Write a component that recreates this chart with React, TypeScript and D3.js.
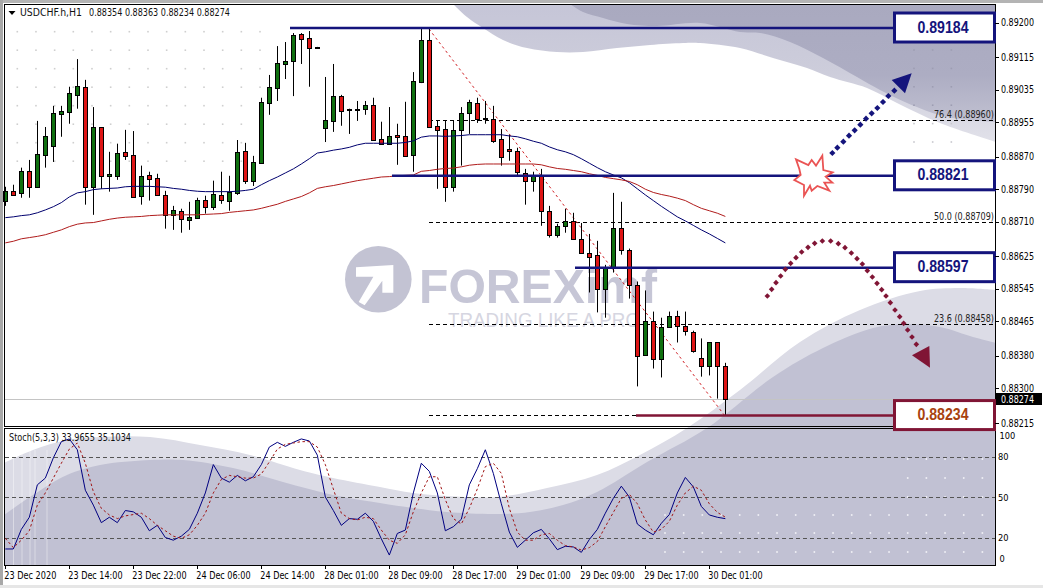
import React from "react";
import * as d3 from "d3";

// Prices are in points (price x 100000)
const highs = [88796,88801,88843,88862,88958,88943,88995,88995,89042,89110,89059,88992,88943,88882,88902,88936,88933,88848,88833,88828,88786,88749,88742,88759,88769,88774,88811,88833,88823,88911,88904,88872,89015,89071,89142,89152,89174,89174,89179,89140,89066,89098,89022,88988,89007,89007,89015,88956,88992,88951,89005,89078,89184,89184,88958,88958,88958,88992,89010,89015,89007,88995,88938,88924,88892,88840,88833,88840,88749,88705,88742,88732,88707,88680,88663,88604,88781,88759,88644,88563,88541,88489,88474,88489,88491,88489,88442,88423,88413,88413,88363];
const lows = [88749,88774,88769,88769,88793,88843,88857,88919,88951,88988,88752,88727,88791,88784,88813,88862,88769,88752,88762,88774,88693,88690,88683,88690,88717,88730,88739,88754,88737,88776,88803,88798,88855,88973,89007,89061,89019,89098,89042,89137,88906,88931,88946,88926,88958,88973,88909,88899,88899,88850,88870,88833,89051,88943,88791,88759,88784,88848,88926,88953,88951,88904,88848,88860,88825,88752,88784,88700,88671,88671,88683,88668,88634,88536,88487,88474,88585,88629,88521,88305,88383,88349,88327,88450,88413,88430,88388,88329,88332,88275,88234];
const opens = [88762,88786,88781,88835,88796,88875,88897,88975,88980,89022,89042,88796,88943,88823,88823,88882,88875,88774,88825,88818,88776,88727,88737,88715,88720,88764,88747,88776,88762,88781,88884,88811,88855,89002,89039,89098,89105,89172,89162,89140,88941,88958,89019,88988,88988,88988,88997,88914,88902,88924,88921,88875,89054,89157,88946,88938,88796,88936,88978,89002,88965,88963,88914,88889,88884,88830,88811,88825,88737,88678,88700,88712,88668,88634,88629,88545,88595,88695,88641,88555,88383,88467,88373,88450,88477,88454,88440,88376,88356,88413,88354];
const closes = [88786,88776,88835,88796,88877,88921,88978,88983,89027,89044,88796,88943,88823,88828,88879,88872,88771,88823,88816,88776,88727,88739,88717,88722,88764,88747,88779,88764,88784,88882,88811,88857,89005,89042,89101,89105,89169,89160,89137,89137,88961,89019,88983,88985,88985,88997,88911,88902,88921,88919,88872,89056,89157,88943,88936,88796,88936,88978,89005,88963,88963,88909,88870,88884,88833,88811,88825,88737,88678,88700,88712,88668,88634,88624,88545,88595,88695,88641,88555,88381,88467,88373,88450,88477,88454,88442,88393,88356,88413,88354,88274];
const maFast = [88720,88722,88725,88727,88732,88739,88747,88757,88771,88781,88784,88789,88791,88792,88793,88796,88797,88797,88797,88796,88795,88792,88790,88787,88785,88784,88784,88784,88784,88785,88787,88790,88801,88811,88820,88830,88840,88852,88865,88879,88882,88886,88889,88893,88899,88903,88903,88903,88903,88903,88905,88909,88918,88921,88921,88920,88921,88922,88924,88924,88924,88924,88924,88921,88919,88914,88908,88903,88894,88887,88882,88875,88865,88854,88843,88833,88825,88818,88806,88791,88776,88762,88748,88735,88722,88712,88701,88690,88680,88669,88658];
const maSlow = [88658,88662,88668,88671,88674,88678,88684,88690,88698,88704,88707,88708,88712,88716,88719,88721,88722,88723,88725,88726,88727,88727,88727,88727,88727,88728,88729,88730,88733,88735,88737,88739,88743,88748,88753,88760,88766,88772,88781,88792,88796,88799,88803,88807,88811,88814,88817,88820,88821,88823,88824,88825,88834,88836,88839,88841,88842,88845,88849,88851,88852,88852,88852,88852,88852,88852,88852,88850,88845,88841,88839,88836,88833,88828,88824,88819,88816,88813,88809,88801,88790,88782,88777,88773,88768,88762,88752,88743,88737,88731,88723];
const stochK = [11.5,11.5,26,35,59,64,79,91,93,85,55,44,31,35,31,40,39,35,25,29,20,18,21,26,38,53,74,64,61,66,62,65,74,87,90.5,87.5,90.5,93,91.5,81,50,40,29,34,33.5,38,32,19,7,23,25.5,53,75,69,53,25,28,33.5,59,71,85,67.5,45,24,12.7,18,23.5,26,19,11,13.5,13,9,18.5,26,38,49,58,50,30,25.5,22,30.5,37,53,64.5,57.5,43,36.7,35,33.97];
const stochD = [19.4,12.5,18,25,44,53,64,75,85.5,90,75,54,41.6,36.7,34,36,37,38,34,29,25,21,19.4,22,29,38,53,63,66,65,64,64,67,76,85.5,89,90,91,91,87,74,56,38,34,33,35,34,25.5,18,15.7,22,39,53,65,65,48,34,30,41.6,56,72.5,75,67.5,41.6,24,18,18,22,23,18,14,13,10.7,12.5,17,28,38.6,49,52,45,33,24,26,32,44,53,58,55,45,38.6,35.1];

const priceTicks = [89200,89115,89035,88955,88870,88790,88710,88625,88545,88465,88380,88300,88215];
const stochTicks = [100,80,50,20,0];
const stochLevels = [80,50,20];
const timeTicks = [
  [0,"23 Dec 2020"],[8,"23 Dec 14:00"],[16,"23 Dec 22:00"],[24,"24 Dec 06:00"],[32,"24 Dec 14:00"],[40,"28 Dec 01:00"],
  [48,"28 Dec 09:00"],[56,"28 Dec 17:00"],[64,"29 Dec 01:00"],[72,"29 Dec 09:00"],[80,"29 Dec 17:00"],[88,"30 Dec 01:00"],
] as [number,string][];
const fibLevels = [[88960,"76.4 (0.88960)"],[88709,"50.0 (0.88709)"],[88458,"23.6 (0.88458)"],[88234,""]] as [number,string][];
const callouts = [
  {level:89184,label:"0.89184",from:290,color:"#14147c",text:"#14147c",dy:-1},
  {level:88821,label:"0.88821",from:392,color:"#14147c",text:"#14147c",dy:-0.8},
  {level:88597,label:"0.88597",from:575,color:"#14147c",text:"#14147c",dy:0},
  {level:88234,label:"0.88234",from:636,color:"#801535",text:"#a8420f",dy:0.3},
];

// decorative background curves [x,y]
const topLight = [[453,4],[467,17],[483,28],[503,40],[527,48],[557,52],[583,52],[617,48],[650,45],[683,43],[700,43],[740,48],[773,58],[807,68],[830,77],[867,88],[897,103],[940,123],[996,142]];
const topDark = [[570,4],[583,12],[603,18],[627,24],[657,26],[700,23],[740,32],[760,33],[790,42],[823,58],[857,77],[880,90],[907,103],[947,117],[996,122]];
const botLight = [[4,463],[33,450],[67,440],[100,437],[150,437],[200,445],[250,455],[300,470],[333,478],[380,487],[413,493],[447,496],[497,497],[547,488],[597,475],[640,455],[687,428],[740,390],[800,342],[860,310],[920,291],[960,288],[996,290]];
const botDark = [[4,515],[33,495],[67,475],[100,465],[150,460],[183,460],[233,468],[283,482],[333,495],[380,503],[413,508],[447,512],[497,514],[530,512],[563,505],[597,492],[647,462],[707,428],[773,377],[823,348],[873,328],[907,324],[940,327],[973,337],[996,343]];
const stripes = [13.5,22,30,35,47];

const blueDots = [[277,459],[292,443],[310,425],[327,407],[344,391],[361,374],[378,356],[395,340],[412,324],[429,306],[445,288],[463,272]];
const blueHead = [[515,220],[455,240],[495,280]];
const redDots = [[82,228],[95,208],[108,188],[122,168],[136,148],[152,130],[168,113],[185,96],[204,82],[224,70],[247,63],[272,63],[295,71],[315,83],[334,99],[351,116],[367,132],[382,152],[397,171],[411,190],[425,209],[438,228],[451,248],[465,270],[479,290],[491,310],[503,330],[516,351],[529,373]];
const redHead = [[568,378],[516,406],[570,443]];
const burst = [[168,478],[205,495],[215,480],[228,497],[247,467],[250,510],[278,517],[257,530],[277,548],[253,548],[268,572],[232,558],[215,572],[210,557],[192,587],[192,555],[163,540],[182,525],[178,507]];
const logoArrow = [[48,82],[160,75],[160,158],[127,158],[127,122],[74,196],[56,186],[100,110],[48,110]];

const FONT = "'DejaVu Sans Condensed','DejaVu Sans',sans-serif";
const x = d3.scaleLinear().domain([0, 90]).range([5.33, 725.33]);
const y = d3.scaleLinear().domain([88215, 89200]).range([423, 22.5]);
const yS = d3.scaleLinear().domain([0, 100]).range([564.5, 429.5]);
const cx = (i: number) => Math.floor(x(i)) + 0.5;

const smooth = d3.line<number[]>().x(d => d[0]).y(d => d[1]).curve(d3.curveCatmullRom);
const area = (pts: number[][], closeTo: number[][]) => {
  const p = smooth(pts) as string;
  return p + closeTo.map(c => `L${c[0]},${c[1]}`).join("") + "Z";
};
const z4 = (p: number[]) => [740 + p[0] / 3, p[1] / 3];
const z5 = (p: number[]) => [740 + p[0] / 3, 220 + p[1] / 3];
const poly = (pts: number[][]) => pts.map(p => p.join(",")).join(" ");

function Candles() {
  return (
    <g>
      {opens.map((o, i) => {
        const c = closes[i];
        const up = c > o;
        const top = Math.round(y(Math.max(o, c))) + 0.5;
        const bot = Math.round(y(Math.min(o, c))) + 0.5;
        return (
          <g key={i}>
            <line x1={cx(i)} x2={cx(i)} y1={y(highs[i])} y2={y(lows[i])} stroke="#000" strokeWidth={1} />
            <rect x={cx(i) - 2} y={top} width={4} height={Math.max(bot - top, 0.5)}
              fill={up ? "#0f700f" : "#de1515"} stroke="#000" strokeWidth={1} />
          </g>
        );
      })}
    </g>
  );
}

export default function App() {
  const fast = d3.line<number>().x((_, i) => x(i)).y(d => y(d));
  const st = d3.line<number>().x((_, i) => x(i)).y(d => yS(d));
  const dotsGrid: number[][] = [];
  for (let k = 0; k < 14; k++) for (let j = 0; j < 8; j++) dotsGrid.push([17.3 + 18.67 * k, 31.7 + 18.5 * j]);
  const dotsGrid2: number[][] = [];
  for (let k = 0; k < 3; k++) for (let j = 0; j < 6; j++) dotsGrid2.push([914 + 18.67 * k, 50 + 18.4 * j]);
  const dotsGrid3: number[][] = [];
  for (let k = 0; k < 18; k++) for (const r of [515, 533, 552]) dotsGrid3.push([665 + 18.67 * k, r]);
  for (let k = 13; k < 18; k++) for (const r of [459, 478, 497]) dotsGrid3.push([665 + 18.67 * k, r]);
  const lastY = y(closes[closes.length - 1]);

  return (
    <svg width={1043} height={588} style={{ position: "absolute", left: 0, top: 0, background: "#fff" }} fontFamily={FONT}>
      <defs>
        <linearGradient id="tl" gradientUnits="userSpaceOnUse" x1="0" y1="0" x2="0" y2="145">
          <stop offset="0" stopColor="#c5c5d7" /><stop offset="0.5" stopColor="#cdcddb" /><stop offset="1" stopColor="#e2e2ea" />
        </linearGradient>
        <linearGradient id="td" gradientUnits="userSpaceOnUse" x1="0" y1="0" x2="0" y2="125">
          <stop offset="0" stopColor="#a9a9bf" /><stop offset="0.6" stopColor="#adadc3" /><stop offset="1" stopColor="#c2c2d2" />
        </linearGradient>
        <clipPath id="win"><rect x={5} y={5} width={990} height={560} /></clipPath>
        <clipPath id="sub"><rect x={5} y={429} width={990} height={136} /></clipPath>
      </defs>

      {/* window chrome */}
      <rect x={0} y={0} width={1043} height={3} fill="#b4b4b4" />
      <rect x={0} y={0} width={3} height={588} fill="#a8a8a8" />
      <rect x={0} y={585} width={1043} height={3} fill="#e6e6e6" />

      {/* background swooshes */}
      <g clipPath="url(#win)">
        <path d={area(topLight, [[996, 4]])} fill="url(#tl)" />
        <path d={area(topDark, [[996, 4]])} fill="url(#td)" />
        <path d={area(botLight, [[996, 566], [4, 566]])} fill="#dcdce6" />
        <path d={area(botDark, [[996, 566], [4, 566]])} fill="#c1c1d3" />
      </g>
      <g clipPath="url(#sub)">
        {stripes.map(s => <line key={s} x1={s} x2={s} y1={450} y2={565} stroke="#fff" strokeOpacity={0.4} />)}
      </g>

      {/* dot grids */}
      {dotsGrid.map((d, i) => <rect key={i} x={d[0] - 0.8} y={d[1] - 0.8} width={1.6} height={1.6} fill="#cfcfcf" />)}
      {dotsGrid2.map((d, i) => <rect key={i} x={d[0] - 0.8} y={d[1] - 0.8} width={1.6} height={1.6} fill={d[1] < 110 ? "#9d9db2" : "#c8c8ce"} />)}
      {dotsGrid3.map((d, i) => <rect key={i} x={d[0] - 0.8} y={d[1] - 0.8} width={1.6} height={1.6} fill="#f4f4f8" />)}

      {/* watermark */}
      <circle cx={378.3} cy={279.3} r={33.3} fill="#c3c3d3" />
      <polygon points={poly(logoArrow.map(p => [340 + p[0] / 3, 240 + p[1] / 3]))} fill="#fff" />
      <text x={419} y={303} fontFamily="'Liberation Sans',sans-serif" fontWeight="bold" fontSize={49} fill="#c6c6d6"
        textLength={238} lengthAdjust="spacingAndGlyphs">FOREXimf</text>
      <text x={448} y={327} fontFamily="'Liberation Sans',sans-serif" fontSize={20.5} fill="#d6d6e1"
        textLength={192} lengthAdjust="spacingAndGlyphs">TRADING LIKE A PRO</text>

      {/* fibonacci */}
      {fibLevels.map(([lv, lab]) => (
        <g key={lv}>
          <line x1={429} x2={995} y1={Math.round(y(lv)) + 0.5} y2={Math.round(y(lv)) + 0.5} stroke="#000" strokeDasharray="4 3" />
          {lab && <text x={994} y={y(lv) - 2.5} textAnchor="end" fontSize={9.8} fill="#222"
            textLength={60} lengthAdjust="spacingAndGlyphs">{lab}</text>}
        </g>
      ))}
      <line x1={429} y1={29} x2={725} y2={416} stroke="#d01f24" strokeDasharray="2.5 3" strokeWidth={1} />

      {/* last price line */}
      <line x1={5} x2={995} y1={Math.round(lastY) + 0.5} y2={Math.round(lastY) + 0.5} stroke="#c4c4c4" />

      <Candles />
      <path d={fast(maFast) as string} fill="none" stroke="#00006e" strokeWidth={1} />
      <path d={fast(maSlow) as string} fill="none" stroke="#b01c1c" strokeWidth={1} />

      {/* stochastic */}
      {stochLevels.map(l => <line key={l} x1={5} x2={995} y1={Math.round(yS(l)) + 0.5} y2={Math.round(yS(l)) + 0.5} stroke="#555" strokeDasharray="4 3" />)}
      <path d={st(stochK) as string} fill="none" stroke="#000080" strokeWidth={1} />
      <path d={st(stochD) as string} fill="none" stroke="#a01414" strokeWidth={1} strokeDasharray="2.5 2.5" />

      {/* chart frames */}
      <rect x={4.5} y={4.5} width={991} height={422} fill="none" stroke="#000" />
      <rect x={4.5} y={428.5} width={991} height={137} fill="none" stroke="#000" />

      {/* callouts */}
      {callouts.map(c => {
        const ly = y(c.level) + c.dy;
        return (
          <g key={c.label}>
            <line x1={c.from} x2={894} y1={ly} y2={ly} stroke={c.color} strokeWidth={2.6} />
            <rect x={894.5} y={ly - 15} width={100} height={29} fill="#fff" stroke={c.color} strokeWidth={3} />
            <text x={943} y={ly + 4.5} textAnchor="middle" fontFamily="'Liberation Sans',sans-serif" fontWeight="bold" fontSize={16}
              fill={c.text} textLength={51} lengthAdjust="spacingAndGlyphs">{c.label}</text>
          </g>
        );
      })}

      {/* arrows */}
      {blueDots.map(z4).map((p, i) => <rect key={i} x={p[0] - 2.2} y={p[1] - 2.2} width={4.4} height={4.4} fill="#14147c" transform={`rotate(45 ${p[0]} ${p[1]})`} />)}
      <polygon points={poly(blueHead.map(z4))} fill="#14147c" />
      {redDots.map(z5).map((p, i) => <rect key={i} x={p[0] - 2} y={p[1] - 2} width={4} height={4} fill="#801535" transform={`rotate(45 ${p[0]} ${p[1]})`} />)}
      <polygon points={poly(redHead.map(z5))} fill="#801535" />
      <polygon points={poly(burst.map(z4))} fill="#fff" stroke="#ea5454" strokeWidth={1.8} />

      {/* price axis */}
      {priceTicks.map(t => (
        <g key={t}>
          <line x1={995} x2={999} y1={Math.round(y(t)) + 0.5} y2={Math.round(y(t)) + 0.5} stroke="#000" />
          <text x={1001} y={y(t) + 3.5} fontSize={9.6} fill="#000" textLength={33} lengthAdjust="spacingAndGlyphs">{(t / 100000).toFixed(5)}</text>
        </g>
      ))}
      <rect x={996} y={393} width={46} height={12} fill="#000" />
      <text x={1001} y={lastY + 3.5} fontSize={9.6} fill="#fff" textLength={33} lengthAdjust="spacingAndGlyphs">{(closes[closes.length - 1] / 100000).toFixed(5)}</text>

      {/* stochastic axis */}
      {stochTicks.map(t => (
        <text key={t} x={t === 100 ? 999.5 : t === 0 ? 999.5 : 998} y={t === 100 ? 439 : t === 0 ? 561.5 : yS(t) + 3.5} fontSize={9.2} fill="#000">{t}</text>
      ))}

      {/* time axis */}
      {timeTicks.map(([i, label]) => (
        <g key={label}>
          <line x1={cx(i)} x2={cx(i)} y1={565} y2={569} stroke="#000" />
          <text x={x(i) - 1} y={578.5} fontSize={9.6} fill="#000"
            textLength={label === "23 Dec 2020" ? 52 : 54.3} lengthAdjust="spacingAndGlyphs">{label}</text>
        </g>
      ))}

      {/* titles */}
      <polygon points="8.5,11 15.5,11 12,15" fill="#000" />
      <text x={20} y={16} fontSize={10} fill="#111" textLength={62} lengthAdjust="spacingAndGlyphs">USDCHF.h,H1</text>
      <text x={89} y={16} fontSize={9.6} fill="#111" textLength={141} lengthAdjust="spacingAndGlyphs">0.88354 0.88363 0.88234 0.88274</text>
      <text x={9} y={441} fontSize={9.6} fill="#111" textLength={122} lengthAdjust="spacingAndGlyphs">Stoch(5,3,3) 33.9655 35.1034</text>
    </svg>
  );
}
